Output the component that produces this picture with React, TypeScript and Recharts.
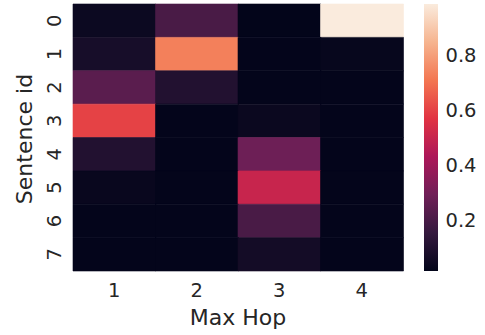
import { BarChart, Bar, XAxis, YAxis, Cell } from 'recharts'

const hops = ['1', '2', '3', '4']
const sentenceIds = [0, 1, 2, 3, 4, 5, 6, 7]

// attention weight per sentence (row 0..7) for each max hop
const hop1 = [0.04, 0.07, 0.24, 0.6, 0.1, 0.03, 0.016, 0.016]
const hop2 = [0.2, 0.73, 0.1, 0.016, 0.016, 0.016, 0.016, 0.016]
const hop3 = [0.014, 0.016, 0.016, 0.035, 0.285, 0.5, 0.2, 0.06]
const hop4 = [0.985, 0.025, 0.016, 0.016, 0.016, 0.016, 0.016, 0.016]
const hopValues = [hop1, hop2, hop3, hop4]

const colorbarTicks = [0.2, 0.4, 0.6, 0.8]

// seaborn "rocket" colormap, approximated
const rocket: [number, string][] = [
  [0, '#03051a'],
  [0.143, '#35193e'],
  [0.286, '#701f57'],
  [0.429, '#ad1759'],
  [0.571, '#e13342'],
  [0.714, '#f37651'],
  [0.857, '#f6b48f'],
  [1, '#faebdd'],
]

const allValues = hopValues.flat()
const vMin = Math.min(...allValues)
const vMax = Math.max(...allValues)

const hex = (c: string) => [1, 3, 5].map((i) => parseInt(c.slice(i, i + 2), 16))

const rocketColor = (v: number) => {
  const t = Math.max(0, Math.min(1, (v - vMin) / (vMax - vMin)))
  for (let i = 1; i < rocket.length; i++) {
    const [p1, c1] = rocket[i]
    const [p0, c0] = rocket[i - 1]
    if (t <= p1) {
      const f = (t - p0) / (p1 - p0)
      const a = hex(c0)
      const b = hex(c1)
      const rgb = a.map((x, k) => Math.round(x + (b[k] - x) * f))
      return `rgb(${rgb.join(',')})`
    }
  }
  return rocket[rocket.length - 1][1]
}

const heatRows = hops.map((hop) => {
  const row: Record<string, string | number> = { hop }
  sentenceIds.forEach((s) => (row[`s${s}`] = 1))
  return row
})

const colorbarData = [{ name: 'cb', range: [vMin, vMax] }]

const TEXT = '#262626'
const FONT = 'DejaVu Sans'

const RotatedTick = (props: any) => {
  const { y, payload } = props
  return (
    <text
      transform={`translate(61, ${y}) rotate(-90)`}
      textAnchor="middle"
      fontSize={19.5}
      fill={TEXT}
      fontFamily={FONT}
    >
      {Math.floor(payload.value)}
    </text>
  )
}

export default function App() {
  return (
    <div style={{ position: 'absolute', left: 0, top: 0, width: 485, height: 335, background: '#fff' }}>
      <div style={{ position: 'absolute', left: 0, top: 0 }}>
        <BarChart
          width={485}
          height={335}
          data={heatRows}
          margin={{ top: 4, right: 82, left: 0, bottom: 0 }}
          barCategoryGap={0}
        >
          <XAxis
            dataKey="hop"
            height={64}
            axisLine={false}
            tickLine={false}
            tickSize={0}
            tickMargin={12}
            tick={{ fontSize: 19.5, fill: TEXT, fontFamily: FONT }}
          />
          <YAxis
            type="number"
            domain={[0, sentenceIds.length]}
            reversed
            ticks={sentenceIds.map((s) => s + 0.5)}
            width={73}
            axisLine={false}
            tickLine={false}
            tick={<RotatedTick />}
            interval={0}
          />
          {sentenceIds.map((s) => (
            <Bar key={s} dataKey={`s${s}`} stackId="heat" isAnimationActive={false}>
              {hops.map((h, i) => {
                const c = rocketColor(hopValues[i][s])
                return <Cell key={h} fill={c} stroke={c} strokeWidth={0.6} />
              })}
            </Bar>
          ))}
        </BarChart>
      </div>
      <div style={{ position: 'absolute', left: 424, top: 0 }}>
        <BarChart
          width={61}
          height={335}
          data={colorbarData}
          margin={{ top: 4, right: 0, left: 0, bottom: 64 }}
          barCategoryGap={0}
        >
          <defs>
            <linearGradient id="rocketGrad" x1="0" y1="1" x2="0" y2="0">
              {rocket.map(([p, c]) => (
                <stop key={p} offset={p} stopColor={c} />
              ))}
            </linearGradient>
          </defs>
          <XAxis dataKey="name" hide />
          <YAxis
            orientation="right"
            type="number"
            domain={[vMin, vMax]}
            allowDataOverflow
            ticks={colorbarTicks}
            tickFormatter={(v: number) => v.toFixed(1)}
            width={47.5}
            axisLine={false}
            tickLine={false}
            tickSize={0}
            tickMargin={8}
            tick={{ fontSize: 19.5, fill: TEXT, fontFamily: FONT }}
          />
          <Bar dataKey="range" fill="url(#rocketGrad)" isAnimationActive={false} />
        </BarChart>
      </div>
      <svg width={485} height={335} style={{ position: 'absolute', left: 0, top: 0, pointerEvents: 'none' }}>
        <text x={238} y={325} textAnchor="middle" fontSize={22} fill={TEXT} fontFamily={FONT}>
          Max Hop
        </text>
        <text
          transform="translate(32, 139) rotate(-90)"
          textAnchor="middle"
          fontSize={22}
          fill={TEXT}
          fontFamily={FONT}
        >
          Sentence id
        </text>
      </svg>
    </div>
  )
}
